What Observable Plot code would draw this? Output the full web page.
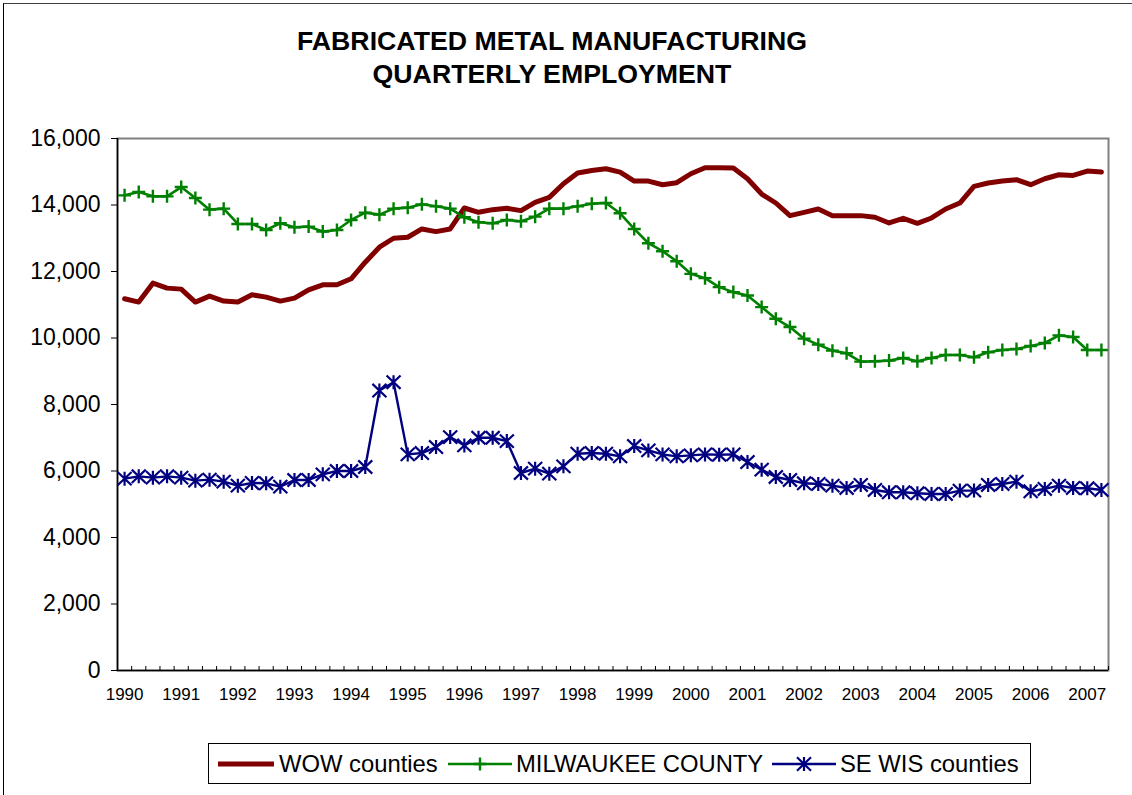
<!DOCTYPE html>
<html><head><meta charset="utf-8">
<script src="https://cdn.jsdelivr.net/npm/d3@7"></script>
<script src="https://cdn.jsdelivr.net/npm/@observablehq/plot@0.6"></script>
<style>
body{margin:0;background:#fff;font-family:Arial,"Liberation Sans",sans-serif;}
#wrap{position:relative;width:1132px;height:795px;overflow:hidden;background:#fff;}
#frame{position:absolute;left:3px;top:3px;width:1140px;height:800px;border-top:1.5px solid #404040;border-left:1.5px solid #000;}
#title{position:absolute;left:0;top:25px;width:1104px;text-align:center;font-weight:bold;font-size:26.7px;line-height:33px;color:#000;}
#chart{position:absolute;left:0;top:0;}
#legend{position:absolute;left:208px;top:743px;width:821px;height:39px;border:1px solid #000;background:#fff;}
.li{position:absolute;top:0;height:39px;display:flex;align-items:center;font-size:23.8px;color:#000;white-space:nowrap;}
.li svg{margin-right:4px;}
</style></head>
<body>
<div id="wrap">
  <div id="frame"></div>
  <div id="title">FABRICATED METAL MANUFACTURING<br>QUARTERLY EMPLOYMENT</div>
  <div id="chart"></div>
  <div id="legend"></div>
</div>
<script>
// ---- data ----
const years = [1990,1991,1992,1993,1994,1995,1996,1997,1998,1999,2000,2001,2002,2003,2004,2005,2006,2007];
const quartersPerYear = 4;
const yTicks = [0,2000,4000,6000,8000,10000,12000,14000,16000];
const seriesNames = ["WOW counties","MILWAUKEE COUNTY","SE WIS counties"];
const seriesColors = ["#800000","#008000","#000080"];

const wow = [11180,11080,11650,11500,11470,11080,11260,11110,11080,11300,
             11230,11110,11200,11450,11600,11600,11780,12280,12730,13000,
             13030,13280,13200,13280,13910,13780,13860,13900,13830,14080,
             14230,14640,14960,15040,15090,14990,14720,14720,14610,14670,
             14940,15120,15120,15110,14790,14330,14060,13680,13780,13880,
             13680,13680,13680,13630,13460,13600,13450,13610,13880,14060,
             14560,14660,14720,14760,14610,14790,14910,14890,15020,14990];
const milwaukee = [14290,14390,14260,14260,14540,14210,13860,13890,13430,13430,
             13250,13450,13330,13350,13200,13250,13550,13770,13710,13890,
             13920,14020,13960,13890,13630,13480,13450,13550,13510,13650,
             13890,13890,13960,14040,14060,13750,13280,12850,12610,12310,
             11930,11800,11530,11380,11280,10930,10580,10330,9980,9800,
             9620,9540,9290,9300,9320,9400,9300,9400,9490,9490,
             9420,9570,9640,9670,9760,9850,10080,10030,9640,9640];
const seWis = [5770,5840,5800,5840,5800,5710,5740,5680,5560,5640,
             5630,5530,5730,5730,5900,6000,6000,6120,8420,8670,
             6500,6540,6720,7020,6770,7000,7000,6900,5940,6070,
             5920,6140,6520,6540,6520,6440,6750,6620,6500,6440,
             6470,6500,6490,6500,6270,6040,5820,5730,5630,5610,
             5560,5490,5580,5430,5360,5360,5330,5310,5310,5410,
             5410,5580,5610,5680,5390,5460,5560,5490,5480,5430];

// ---- derived table ----
const qStep = 1 / quartersPerYear;
const t = wow.map((_, i) => years[0] + i * qStep);
const rowsFor = (vals) => vals.map((v, i) => ({t: t[i], v}));
const dWow = rowsFor(wow), dMil = rowsFor(milwaukee), dSe = rowsFor(seWis);
const xDomain = [t[0] - qStep / 2, t[t.length - 1] + qStep / 2];
const boundaries = t.map(v => v - qStep / 2).concat([xDomain[1]]);

// custom stroke symbols (r = half length)
const plusSym = {draw(ctx, size){ const r = Math.sqrt(size/Math.PI); ctx.moveTo(-r,0); ctx.lineTo(r,0); ctx.moveTo(0,-r); ctx.lineTo(0,r);} };
const starSym = {draw(ctx, size){ const r = Math.sqrt(size/Math.PI); const h = r*0.95;
  ctx.moveTo(-r,-h); ctx.lineTo(r,h); ctx.moveTo(-r,h); ctx.lineTo(r,-h); ctx.moveTo(0,-r); ctx.lineTo(0,r);} };

const chart = Plot.plot({
  width: 1132, height: 795,
  marginTop: 138, marginLeft: 117, marginRight: 24, marginBottom: 125,
  style: {fontFamily: "Arial, 'Liberation Sans', sans-serif", color: "#000", background: "transparent"},
  x: {type: "linear", domain: xDomain},
  y: {domain: [yTicks[0], yTicks[yTicks.length-1]]},
  marks: [
    Plot.frame({stroke: "#808080", strokeWidth: 2}),
    Plot.axisY({ticks: yTicks, tickFormat: d3.format(","), tickSize: 6, tickPadding: 11, fontSize: 23, label: null, stroke: "#000"}),
    Plot.axisX({ticks: boundaries, tickSize: -4, tickFormat: () => "", label: null, stroke: "#000"}),
    Plot.axisX({ticks: years, tickSize: 0, tickPadding: 17, fontSize: 17, tickFormat: d => String(d), label: null}),
    Plot.ruleX([xDomain[0]], {stroke: "#000", strokeWidth: 1.5}),
    Plot.ruleY([yTicks[0]], {stroke: "#000", strokeWidth: 1.5}),
    Plot.line(dWow, {x: "t", y: "v", stroke: seriesColors[0], strokeWidth: 5, strokeLinejoin: "round"}),
    Plot.line(dMil, {x: "t", y: "v", stroke: seriesColors[1], strokeWidth: 2.6}),
    Plot.dot(dMil, {x: "t", y: "v", symbol: plusSym, r: 6.5, fill: "none", stroke: seriesColors[1], strokeWidth: 2.4}),
    Plot.line(dSe, {x: "t", y: "v", stroke: seriesColors[2], strokeWidth: 2.4}),
    Plot.dot(dSe, {x: "t", y: "v", symbol: starSym, r: 7, fill: "none", stroke: seriesColors[2], strokeWidth: 2.2})
  ]
});
document.getElementById("chart").appendChild(chart);

// ---- legend ----
const legend = document.getElementById("legend");
const legendPos = [8, 239, 563];
const markerSvg = [
  `<line x1="1" y1="10" x2="57" y2="10" stroke="${seriesColors[0]}" stroke-width="5"/>`,
  `<line x1="0" y1="10" x2="64" y2="10" stroke="${seriesColors[1]}" stroke-width="2.6"/><path d="M25.5,10h13M32,3.5v13" stroke="${seriesColors[1]}" stroke-width="2.4" fill="none"/>`,
  `<line x1="0" y1="10" x2="64" y2="10" stroke="${seriesColors[2]}" stroke-width="2.4"/><path d="M25,3.3L39,16.7M25,16.7L39,3.3M32,3v14" stroke="${seriesColors[2]}" stroke-width="2.2" fill="none"/>`
];
const sw = [58, 64, 64];
seriesNames.forEach((name, i) => {
  const el = document.createElement("div");
  el.className = "li";
  el.style.left = legendPos[i] + "px";
  el.innerHTML = `<svg width="${sw[i]}" height="20">${markerSvg[i]}</svg><span>${name}</span>`;
  legend.appendChild(el);
});
</script>
</body></html>
